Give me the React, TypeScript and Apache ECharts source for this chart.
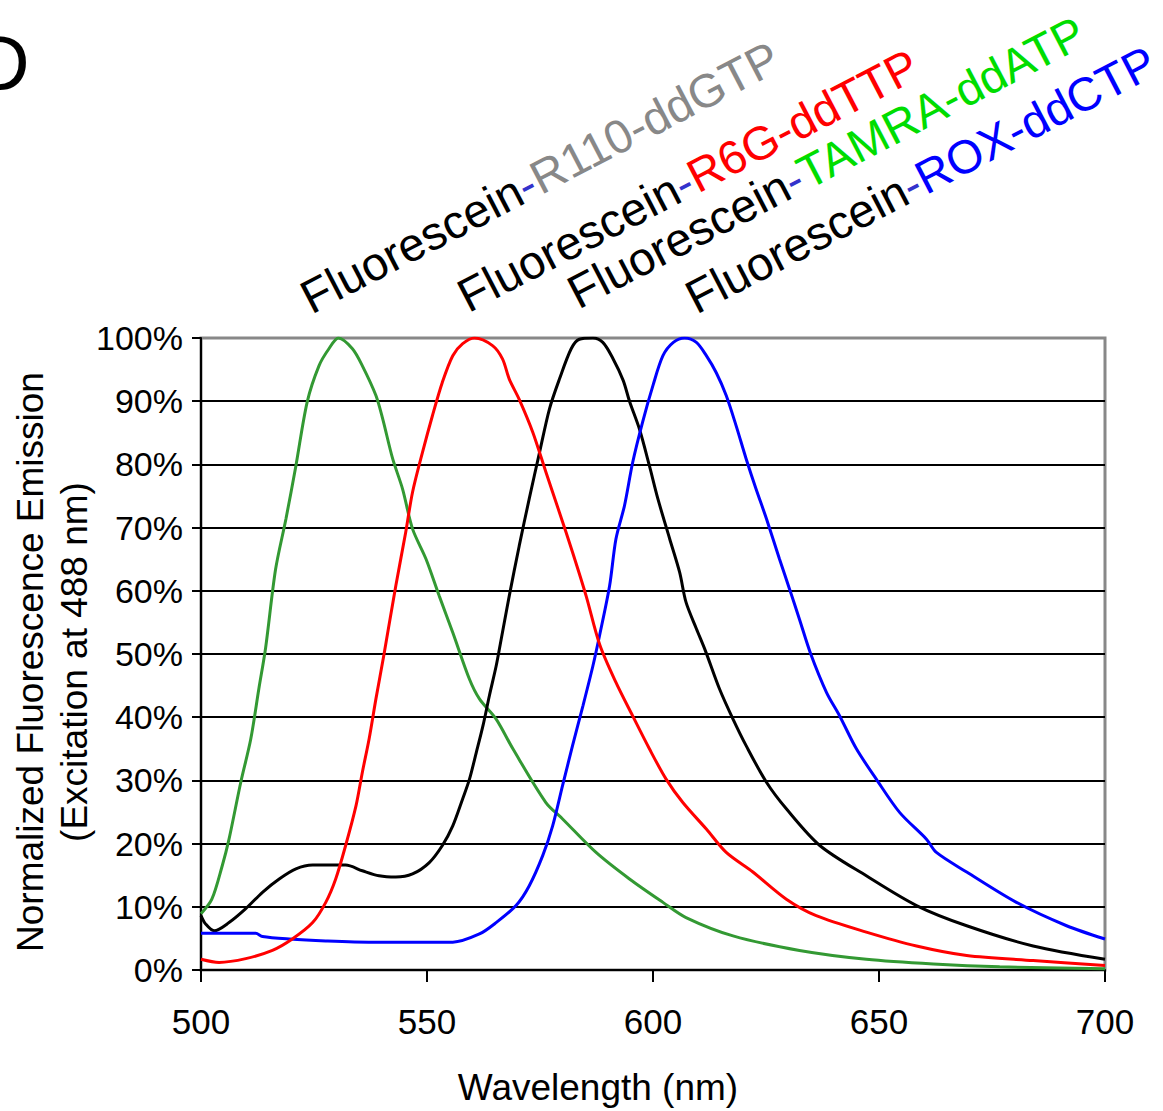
import React, { useEffect, useRef } from "react";
import * as echarts from "echarts";

// Wavelength (nm) / normalized emission (%)
const r110Green: number[][] = [[500,8.9],[502.4,11.2],[504.7,16.5],[506.2,20.7],[508.8,29.7],[511,36.5],[512.8,44.5],[514.3,51],[516.5,63.4],[518.8,71.4],[521,79.8],[523.5,89.9],[526.1,95.6],[528.3,98.3],[530.4,100],[533.5,98.3],[535.7,95.6],[538.7,90.9],[540.2,87.2],[542.4,80.9],[544.6,76.1],[546.8,69.8],[549.8,65],[552.7,59.2],[555.7,53.4],[559.4,46],[561.6,42.9],[565.3,39.7],[569,35],[576.3,26.5],[580,23.9],[587.4,18.6],[594.8,14.4],[602.2,10.7],[607.3,8.3],[617.7,5.4],[632.4,3.1],[647.2,1.7],[662,0.95],[676.7,0.5],[700,0.2]];
const r6gRed: number[][] = [[500,1.7],[504,1.2],[509.9,1.8],[515.8,3.1],[520.2,4.9],[524.7,7.5],[527.6,10.7],[529.8,14.4],[532,19.7],[534.3,26],[535.7,31.3],[537.2,36.6],[538.7,42.9],[540.5,50],[543.1,60.8],[545.3,69.3],[546.8,75.6],[549,81.9],[551.2,87.7],[553.4,93],[555.7,97.2],[557.9,99.1],[560.5,100],[564.5,98.8],[566.7,96.7],[568.2,93.5],[570.4,90.3],[573.4,85.1],[576.3,78.8],[579.3,72.4],[582.2,66.1],[585.2,59.2],[588.2,51.5],[591.8,45.5],[595.5,40.2],[599.2,35],[602.9,30.2],[606.6,26.5],[611.8,22.3],[616.2,18.6],[622.1,15.5],[629.5,11.2],[636.1,8.6],[647.2,6],[658.3,3.8],[669.4,2.3],[684.1,1.5],[700,0.7]];
const tamraBlack: number[][] = [[500,8.6],[501,7.3],[502.9,6.2],[506.2,7.5],[509.9,9.7],[513.6,12.3],[517.3,14.4],[521,16],[524.7,16.6],[528.3,16.6],[532,16.6],[535.7,15.7],[539.4,14.9],[543.1,14.7],[546.8,15.2],[550.5,17],[553.4,19.7],[555.7,22.8],[557.9,27.1],[559.4,30.2],[560.9,34.4],[562.4,38.7],[563.8,43.4],[565.3,48.1],[566.2,51.5],[568.2,59.2],[570.4,67.1],[572.6,74.5],[574.9,81.9],[577.1,88.8],[579.3,93.5],[581.9,98.3],[583.7,99.8],[586.7,100],[588.9,99.3],[591.1,96.8],[593.4,93.3],[594.8,90],[597,85.6],[599.2,79.8],[601.1,74.5],[603.7,68.2],[605.9,62.9],[607.3,58.2],[609.6,54],[611.6,50.5],[614.7,44.5],[617.7,39.7],[620.6,35.5],[625.1,29.7],[629.5,25.5],[636.9,19.7],[647.2,14.9],[658.3,10.2],[669.4,7],[684.1,3.8],[700,1.7]];
const roxBlue: number[][] = [[500,5.8],[512.1,5.8],[513.6,5.3],[519.5,4.9],[527.6,4.6],[537.9,4.4],[555.7,4.4],[561.6,5.7],[565.3,7.5],[569.7,10.2],[572.6,13.3],[575.6,18.1],[577.8,22.8],[580,29.2],[582.2,35.5],[584.5,41.8],[586.7,48.1],[588.2,53],[590.4,60.8],[591.8,68.2],[593.7,73.5],[595.5,80.3],[597.7,86.7],[600,92.5],[602.2,97.2],[604.5,99.3],[607,100],[609.6,99.3],[611.8,97.2],[614,94.5],[616.2,90.9],[618.4,86.1],[620.6,80.9],[622.8,76.1],[625.1,71.4],[628,65],[630.2,60.3],[632.4,55.5],[634.9,50],[638.4,43.9],[641.3,40.2],[645,35],[649.4,30.2],[654.6,24.9],[660.5,20.7],[662.7,18.6],[669.4,15.5],[680.4,10.7],[691.5,7],[700,4.9]];

const seriesData = [r110Green, tamraBlack, roxBlue, r6gRed];
const seriesNames = ["R110", "TAMRA", "ROX", "R6G"];
const seriesColors = ["#339933", "#000000", "#0000ff", "#ff0000"];

const donor = "Fluorescein";
const dyeLabels = ["R110-ddGTP", "R6G-ddTTP", "TAMRA-ddATP", "ROX-ddCTP"];
const dyeColors = ["#888888", "#ff0000", "#00dd00", "#0000ff"];
const dashColor = "#3333cc";
const labelPos = [[304, 300], [461, 298.5], [571, 295], [689, 300]];

const FONT = "'Liberation Sans', Arial, Helvetica, sans-serif";

export default function App() {
  const ref = useRef<HTMLDivElement>(null);
  useEffect(() => {
    if (!ref.current) return;
    const chart = echarts.init(ref.current, undefined, { renderer: "svg" });
    const angle = (27.5 * Math.PI) / 180;
    const labelFs = 47;
    const graphics: any[] = dyeLabels.map((d, i) => ({
      type: "text",
      x: labelPos[i][0],
      y: labelPos[i][1],
      rotation: angle,
      style: {
        text: `{a|${donor}}{b|-}{c|${d}}`,
        fontSize: labelFs,
        fontFamily: FONT,
        align: "left",
        verticalAlign: "middle",
        rich: {
          a: { fill: "#000", color: "#000", fontSize: labelFs, fontFamily: FONT },
          b: { fill: dashColor, color: dashColor, fontSize: labelFs, fontFamily: FONT },
          c: { fill: dyeColors[i], color: dyeColors[i], fontSize: labelFs, fontFamily: FONT },
        },
      },
    }));
    graphics.push({
      type: "text",
      x: -26,
      y: 63,
      style: { text: "D", fontSize: 77, fontFamily: FONT, fill: "#000", align: "left", verticalAlign: "middle" },
    });
    graphics.push({
      type: "text",
      x: 30,
      y: 662,
      rotation: Math.PI / 2,
      style: { text: "Normalized Fluorescence Emission", fontSize: 37, fontFamily: FONT, fill: "#000", align: "center", verticalAlign: "middle" },
    });
    graphics.push({
      type: "text",
      x: 74,
      y: 662,
      rotation: Math.PI / 2,
      style: { text: "(Excitation at 488 nm)", fontSize: 37, fontFamily: FONT, fill: "#000", align: "center", verticalAlign: "middle" },
    });
    graphics.push({
      type: "text",
      x: 598,
      y: 1087,
      style: { text: "Wavelength (nm)", fontSize: 37, fontFamily: FONT, fill: "#000", align: "center", verticalAlign: "middle" },
    });

    chart.setOption({
      animation: false,
      backgroundColor: "#ffffff",
      grid: { left: 201, top: 338, right: 58, bottom: 141, show: true, borderColor: "#888888", borderWidth: 3, backgroundColor: "transparent" },
      xAxis: {
        type: "value",
        min: 500,
        max: 700,
        interval: 50,
        axisLine: { show: true, onZero: false, lineStyle: { color: "#000", width: 2 } },
        axisTick: { show: true, length: 12, lineStyle: { color: "#000", width: 2 } },
        axisLabel: { color: "#000", fontSize: 35, fontFamily: FONT, margin: 34 },
        splitLine: { show: false },
      },
      yAxis: {
        type: "value",
        min: 0,
        max: 100,
        interval: 10,
        axisLine: { show: true, onZero: false, lineStyle: { color: "#000", width: 2 } },
        axisTick: { show: true, length: 9, lineStyle: { color: "#000", width: 2 } },
        axisLabel: { color: "#000", fontSize: 34, fontFamily: FONT, margin: 18, formatter: "{value}%" },
        splitLine: { show: true, showMaxLine: false, showMinLine: false, lineStyle: { color: "#000", width: 2 } },
      },
      graphic: graphics,
      series: seriesData.map((d, i) => ({
        name: seriesNames[i],
        type: "line",
        data: d,
        showSymbol: false,
        smooth: 0.3,
        z: 3 + i,
        lineStyle: { color: seriesColors[i], width: 3 },
        itemStyle: { color: seriesColors[i] },
      })),
    });
    return () => chart.dispose();
  }, []);
  return (
    <div
      ref={ref}
      style={{ position: "absolute", left: 0, top: 0, width: 1163, height: 1111, background: "#fff" }}
    />
  );
}
